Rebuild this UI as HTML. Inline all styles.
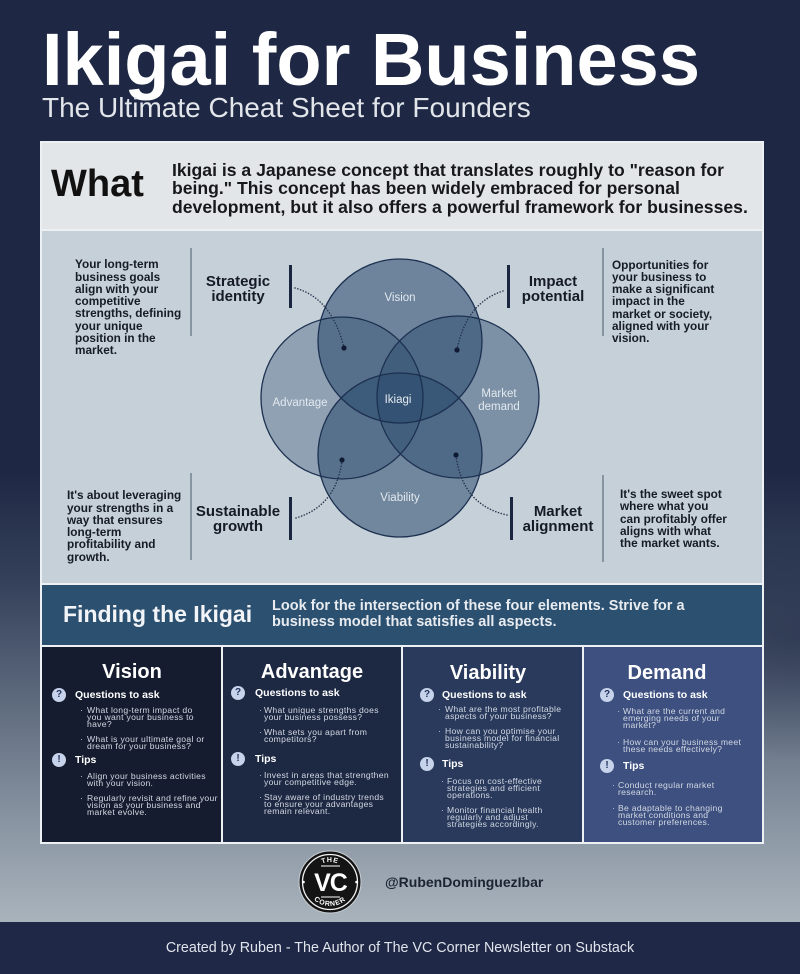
<!DOCTYPE html>
<html><head><meta charset="utf-8">
<style>
*{margin:0;padding:0;box-sizing:border-box}
html,body{width:800px;height:974px;overflow:hidden}
body{position:relative;font-family:"Liberation Sans",Arial,sans-serif;background:linear-gradient(180deg,#1e2844 0px,#1e2844 470px,#34405a 580px,#5d6a7d 700px,#8b97a4 830px,#a9b3bc 921px);}
.a{position:absolute;white-space:nowrap}
.p{font-weight:bold;font-size:11.8px;line-height:12.25px;color:#161b26}
.lb{font-weight:bold;font-size:15px;line-height:15px;color:#151a26;text-align:center;width:120px}
.ct{font-weight:bold;font-size:20px;line-height:20px;color:#fff;text-align:center;width:160px}
.h{font-weight:bold;font-size:10.5px;line-height:10.5px;color:#fff}
.b{font-size:8.6px;line-height:7.4px;letter-spacing:0.3px;color:#d3d9e3}
.ic{position:absolute;width:14px;height:14px;border-radius:50%;background:#c6d3ea;color:#22325c;font-weight:bold;font-size:10px;line-height:14px;text-align:center}
</style></head><body>

<!-- right side darkening -->
<div class="a" style="left:560px;top:540px;width:240px;height:220px;background:radial-gradient(ellipse at 100% 45%,rgba(30,40,68,0.55) 0%,rgba(30,40,68,0) 70%)"></div>

<!-- header -->
<div class="a" style="left:42px;top:23px;font-size:74px;line-height:74px;font-weight:bold;color:#fff">Ikigai for Business</div>
<div class="a" style="left:42px;top:94px;font-size:28px;line-height:28px;color:#e2e5ea">The Ultimate Cheat Sheet for Founders</div>

<!-- panel -->
<div class="a" style="left:40px;top:141px;width:724px;height:703px;background:#eef1f4"></div>
<div class="a" style="left:42px;top:143px;width:720px;height:86px;background:#e3e6e9"></div>
<div class="a" style="left:42px;top:231px;width:720px;height:352px;background:#c5d0d8"></div>
<div class="a" style="left:42px;top:585px;width:720px;height:60px;background:#2b5070"></div>
<div class="a" style="left:42px;top:647px;width:179px;height:195px;background:#161c2f"></div>
<div class="a" style="left:223px;top:647px;width:178px;height:195px;background:#1d2843"></div>
<div class="a" style="left:403px;top:647px;width:179px;height:195px;background:#2a3a5d"></div>
<div class="a" style="left:584px;top:647px;width:178px;height:195px;background:#3d5080"></div>

<!-- footer band -->
<div class="a" style="left:0;top:922px;width:800px;height:52px;background:#1f2846"></div>

<svg class="a" style="left:0;top:0" width="800" height="974" viewBox="0 0 800 974">
  <circle cx="400" cy="341" r="82" fill="#2a4a6e" fill-opacity="0.57"/>
  <circle cx="342" cy="398" r="81" fill="#2a4a6e" fill-opacity="0.35"/>
  <circle cx="458" cy="397" r="81" fill="#2a4a6e" fill-opacity="0.47"/>
  <circle cx="400" cy="455" r="82" fill="#2a4a6e" fill-opacity="0.55"/>
  <g fill="none" stroke="#1d3050" stroke-width="1.3">
    <circle cx="400" cy="341" r="82"/>
    <circle cx="342" cy="398" r="81"/>
    <circle cx="458" cy="397" r="81"/>
    <circle cx="400" cy="455" r="82"/>
  </g>
  <g font-family="Liberation Sans, Arial, sans-serif" font-size="11.5" fill="#e3e9ef" text-anchor="middle">
    <text x="400" y="301">Vision</text>
    <text x="300" y="406">Advantage</text>
    <text x="398" y="403">Ikiagi</text>
    <text x="499" y="397">Market</text>
    <text x="499" y="410">demand</text>
    <text x="400" y="501">Viability</text>
  </g>
  <g stroke="#667585" stroke-width="1.3">
    <line x1="191" y1="248" x2="191" y2="336"/>
    <line x1="191" y1="473" x2="191" y2="560"/>
    <line x1="603" y1="248" x2="603" y2="336"/>
    <line x1="603" y1="475" x2="603" y2="562"/>
  </g>
  <g stroke="#1a2540" stroke-width="3">
    <line x1="290.5" y1="265" x2="290.5" y2="308"/>
    <line x1="290.5" y1="497" x2="290.5" y2="540"/>
    <line x1="508.5" y1="265" x2="508.5" y2="308"/>
    <line x1="511.5" y1="497" x2="511.5" y2="540"/>
  </g>
  <g fill="none" stroke="#26324d" stroke-width="1.5" stroke-dasharray="0.1 2.8" stroke-linecap="round">
    <path d="M295,288 Q332,298 344,348"/>
    <path d="M503,291 Q466,303 457,350"/>
    <path d="M296,518 Q336,506 342,461"/>
    <path d="M507,515 Q462,505 456,455"/>
  </g>
  <g fill="#101a33">
    <circle cx="344" cy="348" r="2.6"/>
    <circle cx="457" cy="350" r="2.6"/>
    <circle cx="342" cy="460" r="2.6"/>
    <circle cx="456" cy="455" r="2.6"/>
  </g>
  <circle cx="330" cy="882" r="31" fill="#141414" stroke="#c9cfd5" stroke-width="1"/>
  <circle cx="330" cy="882" r="27.5" fill="none" stroke="#f2f2f2" stroke-width="1.3"/>
  <defs>
    <path id="arcT" d="M310,882 A20,20 0 0 1 350,882"/>
    <path id="arcB" d="M306,882 A24,24 0 0 0 354,882"/>
  </defs>
  <text font-family="Liberation Sans, Arial, sans-serif" font-weight="bold" font-size="7" fill="#fff" letter-spacing="0.8"><textPath href="#arcT" startOffset="50%" text-anchor="middle">THE</textPath></text>
  <text font-family="Liberation Sans, Arial, sans-serif" font-weight="bold" font-size="7" fill="#fff" letter-spacing="0.8"><textPath href="#arcB" startOffset="50%" text-anchor="middle">CORNER</textPath></text>
  <text x="330.5" y="891" font-family="Liberation Sans, Arial, sans-serif" font-weight="bold" font-size="25" fill="#fff" text-anchor="middle" letter-spacing="-1">VC</text>
  <line x1="321" y1="866" x2="340" y2="866" stroke="#fff" stroke-width="1"/>
  <line x1="321" y1="897" x2="340" y2="897" stroke="#fff" stroke-width="1"/>
  <circle cx="303.5" cy="882" r="1.3" fill="#fff"/>
  <circle cx="356.5" cy="882" r="1.3" fill="#fff"/>
</svg>

<!-- What -->
<div class="a" style="left:51px;top:165px;font-size:38px;line-height:38px;font-weight:bold;color:#111">What</div>
<div class="a" style="left:172px;top:160.8px;font-size:17.6px;line-height:18.6px;font-weight:bold;color:#16181d">Ikigai is a Japanese concept that translates roughly to "reason for<br>being." This concept has been widely embraced for personal<br>development, but it also offers a powerful framework for businesses.</div>

<!-- venn side texts -->
<div class="a p" style="left:75px;top:258.3px">Your long-term<br>business goals<br>align with your<br>competitive<br>strengths, defining<br>your unique<br>position in the<br>market.</div>
<div class="a p" style="left:67px;top:489.3px">It's about leveraging<br>your strengths in a<br>way that ensures<br>long-term<br>profitability and<br>growth.</div>
<div class="a p" style="left:612px;top:258.5px">Opportunities for<br>your business to<br>make a significant<br>impact in the<br>market or society,<br>aligned with your<br>vision.</div>
<div class="a p" style="left:620px;top:488px">It's the sweet spot<br>where what you<br>can profitably offer<br>aligns with what<br>the market wants.</div>

<div class="a lb" style="left:178px;top:274.3px">Strategic<br>identity</div>
<div class="a lb" style="left:178px;top:504.3px">Sustainable<br>growth</div>
<div class="a lb" style="left:493px;top:274.3px">Impact<br>potential</div>
<div class="a lb" style="left:498px;top:503.5px">Market<br>alignment</div>

<!-- Finding -->
<div class="a" style="left:63px;top:602.5px;font-size:23px;line-height:23px;font-weight:bold;color:#f2f4f7">Finding the Ikigai</div>
<div class="a" style="left:272px;top:598px;font-size:14.5px;line-height:16px;font-weight:bold;color:#e8ecf0">Look for the intersection of these four elements. Strive for a<br>business model that satisfies all aspects.</div>

<!-- Cards: titles -->
<div class="a ct" style="left:52px;top:662px">Vision</div>
<div class="a ct" style="left:232px;top:662px">Advantage</div>
<div class="a ct" style="left:408px;top:663px">Viability</div>
<div class="a ct" style="left:587px;top:663px">Demand</div>

<!-- Vision card -->
<div class="ic" style="left:52px;top:688px">?</div>
<div class="a h" style="left:75px;top:690px">Questions to ask</div>
<div class="a b" style="left:80px;top:706.6px">·</div>
<div class="a b" style="left:87px;top:706.6px">What long-term impact do<br>you want your business to<br>have?</div>
<div class="a b" style="left:80px;top:735.6px">·</div>
<div class="a b" style="left:87px;top:735.6px">What is your ultimate goal or<br>dream for your business?</div>
<div class="ic" style="left:52px;top:753px">!</div>
<div class="a h" style="left:75px;top:755px">Tips</div>
<div class="a b" style="left:80px;top:772.6px">·</div>
<div class="a b" style="left:87px;top:772.6px">Align your business activities<br>with your vision.</div>
<div class="a b" style="left:80px;top:794.6px">·</div>
<div class="a b" style="left:87px;top:794.6px">Regularly revisit and refine your<br>vision as your business and<br>market evolve.</div>

<!-- Advantage card -->
<div class="ic" style="left:231px;top:686px">?</div>
<div class="a h" style="left:255px;top:688px">Questions to ask</div>
<div class="a b" style="left:259px;top:706.6px">·</div>
<div class="a b" style="left:264px;top:706.6px">What unique strengths does<br>your business possess?</div>
<div class="a b" style="left:259px;top:728.6px">·</div>
<div class="a b" style="left:264px;top:728.6px">What sets you apart from<br>competitors?</div>
<div class="ic" style="left:231px;top:752px">!</div>
<div class="a h" style="left:255px;top:754px">Tips</div>
<div class="a b" style="left:259px;top:771.6px">·</div>
<div class="a b" style="left:264px;top:771.6px">Invest in areas that strengthen<br>your competitive edge.</div>
<div class="a b" style="left:259px;top:793.6px">·</div>
<div class="a b" style="left:264px;top:793.6px">Stay aware of industry trends<br>to ensure your advantages<br>remain relevant.</div>

<!-- Viability card -->
<div class="ic" style="left:420px;top:688px">?</div>
<div class="a h" style="left:442px;top:690px">Questions to ask</div>
<div class="a b" style="left:438px;top:705.6px">·</div>
<div class="a b" style="left:445px;top:705.6px">What are the most profitable<br>aspects of your business?</div>
<div class="a b" style="left:438px;top:727.6px">·</div>
<div class="a b" style="left:445px;top:727.6px">How can you optimise your<br>business model for financial<br>sustainability?</div>
<div class="ic" style="left:420px;top:757px">!</div>
<div class="a h" style="left:442px;top:759px">Tips</div>
<div class="a b" style="left:441px;top:777.6px">·</div>
<div class="a b" style="left:447px;top:777.6px">Focus on cost-effective<br>strategies and efficient<br>operations.</div>
<div class="a b" style="left:441px;top:806.6px">·</div>
<div class="a b" style="left:447px;top:806.6px">Monitor financial health<br>regularly and adjust<br>strategies accordingly.</div>

<!-- Demand card -->
<div class="ic" style="left:600px;top:688px">?</div>
<div class="a h" style="left:623px;top:690px">Questions to ask</div>
<div class="a b" style="left:617px;top:707.6px">·</div>
<div class="a b" style="left:623px;top:707.6px">What are the current and<br>emerging needs of your<br>market?</div>
<div class="a b" style="left:617px;top:738.6px">·</div>
<div class="a b" style="left:623px;top:738.6px">How can your business meet<br>these needs effectively?</div>
<div class="ic" style="left:600px;top:759px">!</div>
<div class="a h" style="left:623px;top:761px">Tips</div>
<div class="a b" style="left:612px;top:781.6px">·</div>
<div class="a b" style="left:618px;top:781.6px">Conduct regular market<br>research.</div>
<div class="a b" style="left:612px;top:804.6px">·</div>
<div class="a b" style="left:618px;top:804.6px">Be adaptable to changing<br>market conditions and<br>customer preferences.</div>

<!-- handle -->
<div class="a" style="left:385px;top:875px;font-size:14px;line-height:14px;font-weight:bold;color:#1c2333">@RubenDominguezIbar</div>

<!-- footer text -->
<div class="a" style="left:0;top:941px;width:800px;text-align:center;font-size:14.3px;line-height:14.3px;color:#e0e4ec">Created by Ruben - The Author of The VC Corner Newsletter on Substack</div>

</body></html>
